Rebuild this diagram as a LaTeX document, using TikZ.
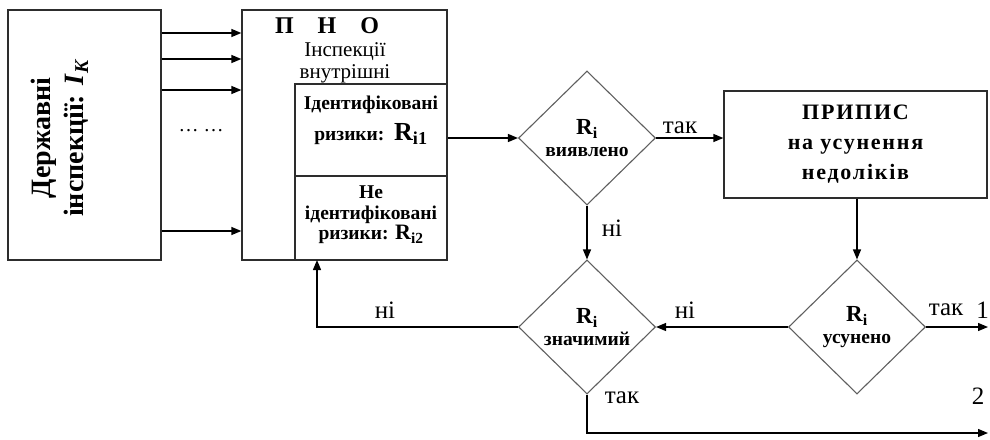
\documentclass[tikz,border=0pt]{standalone}
\usepackage{fontspec}
\setmainfont{Liberation Serif}
\usetikzlibrary{
  shapes.geometric,
  positioning,
  calc,
  arrows.meta}
\definecolor{linecolor}{RGB}{45,45,45}
\definecolor{diamcolor}{RGB}{95,95,95}
\tikzset{
  %% block : a plain rectangular block
  block/.style={
    rectangle,
    draw=linecolor,
    line width=1.3pt,
    inner sep=0pt,
    align=center
  },
  %% blocktext : bold text inside a block
  blocktext/.style={
    align=center,
    inner sep=0pt,
    font=\bfseries\fontsize{19.5}{20.5}\selectfont
  },
  %% decision : a diamond with a question
  decision/.style={
    diamond,
    draw=diamcolor,
    line width=1.1pt,
    minimum width=137pt,
    minimum height=134pt,
    inner sep=0pt,
    align=center,
    font=\bfseries\fontsize{19.5}{22}\selectfont
  },
  %% arr : connector with a filled tip
  arr/.style={
    draw=black,
    line width=1.3pt,
    -{Triangle[length=10pt,width=8pt]}
  },
  %% answer : the yes / no texts
  answer/.style={
    font=\fontsize{25}{28}\selectfont,
    inner sep=0pt
  }
}

\begin{document}
\begin{tikzpicture}
  [x=1pt,
  y=-1pt]

  \useasboundingbox (0,0) rectangle (990,439);

  %% Blocks
  \node (state) [block, minimum width=153pt, minimum height=250pt]
  at (84.5,135) {};
  \node (statetext) [rotate=90, align=center,
    font=\bfseries\fontsize{28}{33}\selectfont] at (60,138) {%
    Державні\\
    інспекції: \textit{I}\textsubscript{\textit{K}}
  };

  \node (pno) [block, minimum width=205pt, minimum height=250pt]
  at (344.5,135) {};
  \node (pnotitle) [font=\bfseries\fontsize{24}{26}\selectfont]
  at (327,26) {П\hspace{24pt}Н\hspace{24pt}О};
  \node (pnotext) [align=center, font=\fontsize{21}{22}\selectfont]
  at (345,63) {Інспекції\\внутрішні};

  \node (ident) [block, minimum width=152pt, minimum height=92pt]
  at (371,130) {};
  \node (identtext) [blocktext, font=\bfseries\fontsize{19.5}{31}\selectfont]
  at (371,120) {%
    Ідентифіковані\\
    ризики:\ \ {\fontsize{26}{26}\selectfont R\textsubscript{i1}}
  };

  \node (nonident) [block, minimum width=152pt, minimum height=84pt]
  at (371,218) {};
  \node (nonidenttext) [blocktext]
  at (371,215) {%
    Не\\
    ідентифіковані\\
    ризики: {\fontsize{22}{20}\selectfont R\textsubscript{i2}}
  };

  \node (dots) [font=\fontsize{20}{22}\selectfont] at (201,131) {\dots\ \dots};

  \node (order) [block, minimum width=263pt, minimum height=107pt,
    font=\bfseries\fontsize{22}{30}\selectfont\addfontfeature{LetterSpace=8}]
  at (855.5,144.5) {%
    ПРИПИС\\
    на усунення\\
    недоліків
  };

  %% Decisions
  \node (found) [decision] at (587,138) {%
    {\fontsize{23}{20}\selectfont R\textsubscript{i}}\\виявлено
  };
  \node (signif) [decision] at (587,327) {%
    {\fontsize{23}{20}\selectfont R\textsubscript{i}}\\значимий
  };
  \node (fixed) [decision] at (857,327) {%
    {\fontsize{23}{20}\selectfont R\textsubscript{i}}\\усунено
  };

  %% Free ends
  \coordinate (ret) at (317,260);
  \coordinate (out1) at (988,327);
  \coordinate (out2) at (988,433);

  %% Connections
  \foreach \y in {33,59,90,231}
    \draw [arr] (state.east |- 0,\y) -- (pno.west |- 0,\y);
  \draw [arr] (ident.east |- found.west) -- (found.west);
  \draw [arr] (found.east) -- (order.west |- found.east);
  \draw [arr] (found.south) -- (signif.north);
  \draw [arr] (order.south -| fixed.north) -- (fixed.north);
  \draw [arr] (fixed.west) -- (signif.east);
  \draw [arr] (fixed.east) -- (out1);
  \draw [arr] (signif.west) -| (ret);
  \draw [arr] (signif.south) |- (out2);

  %% Answers
  \node (yes1) [answer] at (680,128) {так};
  \node (no1) [answer] at (612,228) {ні};
  \node (no2) [answer] at (685,310) {ні};
  \node (yes2) [answer] at (946,310) {так};
  \node (no3) [answer] at (385,310) {ні};
  \node (yes3) [answer] at (622,398) {так};
  \node (one) [answer, anchor=east] at (989,310) {1};
  \node (two) [answer] at (978,396) {2};

\end{tikzpicture}
\end{document}
